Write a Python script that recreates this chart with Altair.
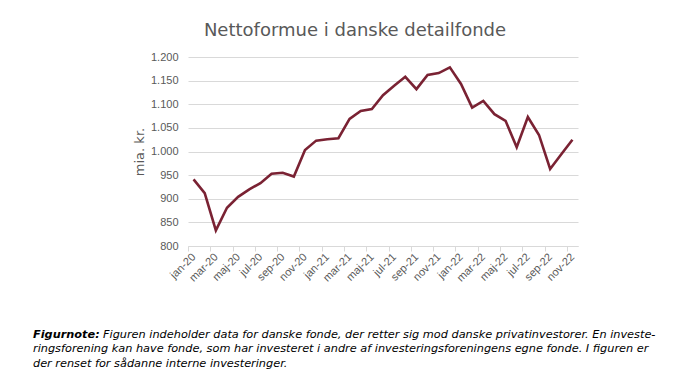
import altair as alt
import pandas as pd

months = ["jan-20","feb-20","mar-20","apr-20","maj-20","jun-20","jul-20","aug-20","sep-20","okt-20","nov-20","dec-20",
          "jan-21","feb-21","mar-21","apr-21","maj-21","jun-21","jul-21","aug-21","sep-21","okt-21","nov-21","dec-21",
          "jan-22","feb-22","mar-22","apr-22","maj-22","jun-22","jul-22","aug-22","sep-22","okt-22","nov-22"]
values = [941, 912, 833, 881, 904, 920, 933, 953, 955, 947, 1003, 1023,
          1026, 1028, 1069, 1086, 1090, 1119, 1139, 1158, 1132, 1162, 1166, 1178,
          1143, 1093, 1107, 1079, 1065, 1009, 1073, 1035, 963, 994, 1025]
y_ticks = [800, 850, 900, 950, 1000, 1050, 1100, 1150, 1200]
title_text = "Nettoformue i danske detailfonde"
y_title = "mia. kr."
note_bold = "Figurnote:"
note_lines = [
    "Figuren indeholder data for danske fonde, der retter sig mod danske privatinvestorer. En investe-",
    "ringsforening kan have fonde, som har investeret i andre af investeringsforeningens egne fonde. I figuren er",
    "der renset for sådanne interne investeringer.",
]

df = pd.DataFrame({"month": months, "value": values})
df["pos"] = [i + 0.5 for i in range(len(months))]

tick_vals = list(range(0, len(months), 2))
label_arr = "[" + ",".join("'" + months[i] + "'" for i in tick_vals) + "]"

W, H = 390, 189
lab_font = "Liberation Sans"
gray = "#595959"

line = alt.Chart(df).mark_line(color="#7a2233", strokeWidth=2.6).encode(
    x=alt.X("pos:Q", scale=alt.Scale(domain=[0, len(months)], nice=False, zero=False),
            axis=alt.Axis(values=tick_vals, labelExpr=label_arr + "[datum.value/2]",
                          labelAngle=-45, labelAlign="right", labelBaseline="middle",
                          labelOffset=5.6, labelPadding=4, tickSize=5, tickColor="#d9d9d9",
                          domainColor="#d9d9d9", grid=False, title=None, labelOverlap=False,
                          labelFont=lab_font, labelFontSize=11, labelColor=gray)),
    y=alt.Y("value:Q", scale=alt.Scale(domain=[800, 1200], nice=False, zero=False),
            axis=alt.Axis(values=y_ticks, labelExpr="replace(format(datum.value, ','), ',', '.')",
                          ticks=False, domain=False, labelPadding=10, gridColor="#d9d9d9",
                          title=y_title, titleFont="DejaVu Sans", titleFontSize=13,
                          titleFontWeight="normal", titleColor=gray, titlePadding=4,
                          labelFont=lab_font, labelFontSize=11, labelColor=gray)),
)

note_font = "DejaVu Sans"
NS = 11.3
bold = alt.Chart(pd.DataFrame({"t": [note_bold]})).mark_text(
    font=note_font, fontSize=NS, fontStyle="italic", fontWeight="bold", align="left",
    baseline="middle", color="black"
).encode(text="t:N", x=alt.value(-155), y=alt.value(277.5))

note_layers = []
starts = [(-85, 277.5), (-155, 292), (-155, 306.5)]
for txt, (xx, yy) in zip(note_lines, starts):
    note_layers.append(
        alt.Chart(pd.DataFrame({"t": [txt]})).mark_text(
            font=note_font, fontSize=NS, fontStyle="italic", align="left",
            baseline="middle", color="black"
        ).encode(text="t:N", x=alt.value(xx), y=alt.value(yy))
    )

chart = alt.layer(line, bold, *note_layers).properties(
    width=W, height=H,
    title=alt.TitleParams(title_text, font="DejaVu Sans", fontSize=18, fontWeight="normal",
                          color=gray, anchor="middle", frame="group", dx=-28, dy=23,
                          baseline="alphabetic", offset=20),
    autosize=alt.AutoSizeParams(type="none"),
    padding={"left": 180, "top": 49, "right": 100, "bottom": 134},
).configure_view(stroke=None)

chart.save("out.html", embed_options={"renderer": "svg", "actions": False})
